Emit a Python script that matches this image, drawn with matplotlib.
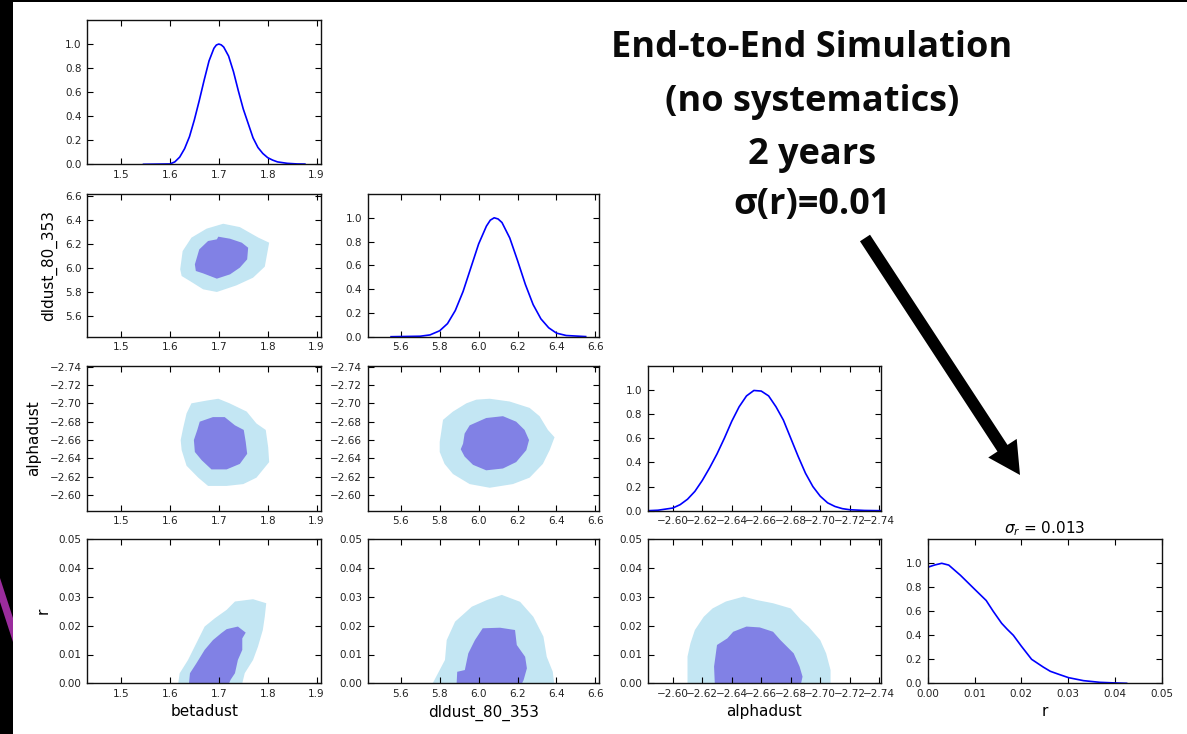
import matplotlib
matplotlib.use('Agg')
import matplotlib.pyplot as plt
from matplotlib.patches import FancyArrow, Rectangle, Polygon

W, H, DPI = 1187, 734, 100

# ---------------- data ----------------
param_names = ['betadust', 'dldust_80_353', 'alphadust', 'r']
beta_lim = (1.431, 1.909)
dl_lim = (5.43, 6.62)
alpha_lim = (-2.583, -2.741)
r_lim = (0.0, 0.05)
pdf_lim = (0.0, 1.2)

beta_ticks = [1.5, 1.6, 1.7, 1.8, 1.9]
dl_ticks = [5.6, 5.8, 6.0, 6.2, 6.4, 6.6]
alpha_ticks = [-2.60, -2.62, -2.64, -2.66, -2.68, -2.70, -2.72, -2.74]
r_ticks = [0.0, 0.01, 0.02, 0.03, 0.04, 0.05]
pdf_ticks = [0.0, 0.2, 0.4, 0.6, 0.8, 1.0]

# 1D marginals
beta_pdf_x = [1.546, 1.600, 1.610, 1.620, 1.630, 1.640, 1.650, 1.660, 1.670, 1.680, 1.690, 1.695,
              1.700, 1.705, 1.710, 1.720, 1.730, 1.740, 1.750, 1.760, 1.770, 1.780, 1.790,
              1.800, 1.810, 1.820, 1.840, 1.860, 1.876]
beta_pdf_y = [0.0, 0.003, 0.02, 0.06, 0.13, 0.23, 0.37, 0.53, 0.70, 0.86, 0.965, 0.992,
              1.0, 0.993, 0.975, 0.90, 0.77, 0.61, 0.46, 0.34, 0.22, 0.14, 0.09,
              0.055, 0.035, 0.02, 0.008, 0.003, 0.002]

dl_pdf_x = [5.55, 5.70, 5.75, 5.80, 5.84, 5.88, 5.92, 5.96, 6.00, 6.04, 6.06, 6.08, 6.10,
            6.12, 6.16, 6.20, 6.24, 6.28, 6.32, 6.36, 6.40, 6.45, 6.55]
dl_pdf_y = [0.0, 0.004, 0.015, 0.05, 0.11, 0.22, 0.38, 0.58, 0.78, 0.93, 0.98, 1.0, 0.99,
            0.96, 0.83, 0.64, 0.44, 0.27, 0.15, 0.075, 0.03, 0.01, 0.001]

alpha_pdf_x = [-2.583, -2.590, -2.600, -2.605, -2.610, -2.615, -2.620, -2.625, -2.630, -2.635,
               -2.640, -2.645, -2.650, -2.655, -2.660, -2.665, -2.670, -2.675, -2.680, -2.685,
               -2.690, -2.695, -2.700, -2.705, -2.710, -2.715, -2.720, -2.730, -2.741]
alpha_pdf_y = [0.0, 0.004, 0.022, 0.05, 0.095, 0.16, 0.25, 0.355, 0.47, 0.60,
               0.74, 0.86, 0.95, 0.995, 0.99, 0.95, 0.86, 0.75, 0.60, 0.45,
               0.31, 0.20, 0.12, 0.065, 0.035, 0.017, 0.008, 0.002, 0.0]

r_pdf_x = [0.0, 0.0015, 0.003, 0.0045, 0.007, 0.010, 0.0125, 0.014, 0.0158, 0.017, 0.0183,
           0.0200, 0.0222, 0.0247, 0.0262, 0.0280, 0.0301, 0.0333, 0.0368, 0.040, 0.0425]
r_pdf_y = [0.967, 0.986, 1.0, 0.985, 0.90, 0.785, 0.69, 0.60, 0.50, 0.45, 0.40,
           0.31, 0.20, 0.135, 0.10, 0.075, 0.047, 0.022, 0.008, 0.003, 0.0]

# 2D credible-region outlines (outer = 95%, inner = 68%)
beta_dl_outer_x = [1.621, 1.626, 1.644, 1.675, 1.709, 1.743, 1.781, 1.803, 1.798, 1.794, 1.770,
                   1.736, 1.696, 1.668, 1.641, 1.624]
beta_dl_outer_y = [5.992, 6.144, 6.256, 6.331, 6.372, 6.344, 6.256, 6.214, 6.103, 6.014, 5.922,
                   5.858, 5.803, 5.825, 5.894, 5.936]
beta_dl_inner_x = [1.651, 1.660, 1.678, 1.696, 1.699, 1.723, 1.747, 1.760, 1.758, 1.743, 1.723,
                   1.696, 1.668, 1.653]
beta_dl_inner_y = [6.033, 6.158, 6.228, 6.242, 6.264, 6.247, 6.214, 6.172, 6.075, 6.006, 5.950,
                   5.914, 5.958, 5.978]

beta_alpha_outer_x = [1.644, 1.675, 1.699, 1.722, 1.757, 1.777, 1.796, 1.801, 1.803, 1.777, 1.750,
                      1.716, 1.678, 1.658, 1.634, 1.624, 1.622, 1.627, 1.634]
beta_alpha_outer_y = [-2.700, -2.703, -2.705, -2.700, -2.691, -2.678, -2.671, -2.652, -2.636,
                      -2.619, -2.612, -2.610, -2.610, -2.619, -2.632, -2.649, -2.660, -2.673,
                      -2.689]
beta_alpha_inner_x = [1.661, 1.688, 1.712, 1.733, 1.751, 1.755, 1.758, 1.743, 1.716, 1.685, 1.665,
                      1.651, 1.649, 1.656]
beta_alpha_inner_y = [-2.680, -2.685, -2.685, -2.676, -2.671, -2.658, -2.645, -2.634, -2.628,
                      -2.628, -2.638, -2.647, -2.660, -2.671]

dl_alpha_outer_x = [5.808, 5.817, 5.868, 5.937, 5.988, 6.057, 6.159, 6.262, 6.313, 6.356, 6.390,
                    6.365, 6.330, 6.262, 6.176, 6.057, 5.954, 5.868, 5.825, 5.800, 5.800]
dl_alpha_outer_y = [-2.669, -2.682, -2.691, -2.700, -2.704, -2.705, -2.702, -2.695, -2.686,
                    -2.671, -2.663, -2.649, -2.634, -2.619, -2.612, -2.608, -2.612, -2.623,
                    -2.634, -2.647, -2.658]
dl_alpha_inner_x = [5.920, 5.928, 5.954, 6.039, 6.125, 6.193, 6.236, 6.259, 6.245, 6.193, 6.125,
                    6.039, 5.971, 5.928, 5.908]
dl_alpha_inner_y = [-2.656, -2.667, -2.676, -2.684, -2.686, -2.680, -2.671, -2.660, -2.649,
                    -2.636, -2.629, -2.627, -2.633, -2.642, -2.650]

beta_r_outer_x = [1.617, 1.620, 1.637, 1.654, 1.671, 1.692, 1.716, 1.733, 1.770, 1.797, 1.794,
                  1.790, 1.780, 1.770, 1.753, 1.748]
beta_r_outer_y = [0.0, 0.0035, 0.0081, 0.0139, 0.0197, 0.0226, 0.0255, 0.0284, 0.0292, 0.0278,
                  0.0231, 0.0185, 0.0127, 0.0081, 0.0035, 0.0]
beta_r_inner_x = [1.639, 1.641, 1.654, 1.671, 1.688, 1.705, 1.716, 1.739, 1.755, 1.748, 1.748,
                  1.739, 1.733, 1.724, 1.721]
beta_r_inner_y = [0.0, 0.0035, 0.0069, 0.0116, 0.0150, 0.0174, 0.0188, 0.0197, 0.0176, 0.0156,
                  0.0116, 0.0081, 0.0035, 0.0012, 0.0]

dl_r_outer_x = [5.764, 5.827, 5.836, 5.879, 5.965, 6.042, 6.119, 6.213, 6.281, 6.333, 6.350,
                6.381, 6.388]
dl_r_outer_y = [0.0, 0.0081, 0.0150, 0.0214, 0.0266, 0.0289, 0.0307, 0.0283, 0.0231, 0.0162,
                0.0092, 0.0040, 0.0]
dl_r_inner_x = [5.887, 5.890, 5.929, 5.947, 5.981, 6.021, 6.110, 6.187, 6.196, 6.239, 6.248,
                6.231, 6.223]
dl_r_inner_y = [0.0, 0.0040, 0.0046, 0.0104, 0.0150, 0.0191, 0.0193, 0.0185, 0.0133, 0.0092,
                0.0052, 0.0011, 0.0]

alpha_r_outer_x = [-2.610, -2.610, -2.612, -2.615, -2.621, -2.627, -2.636, -2.648, -2.657,
                   -2.668, -2.680, -2.687, -2.692, -2.700, -2.704, -2.707, -2.707]
alpha_r_outer_y = [0.0, 0.0093, 0.0139, 0.0185, 0.0231, 0.0260, 0.0284, 0.0301, 0.0289,
                   0.0278, 0.0260, 0.0220, 0.0197, 0.0150, 0.0104, 0.0046, 0.0]
alpha_r_inner_x = [-2.6285, -2.628, -2.630, -2.637, -2.641, -2.650, -2.659, -2.668, -2.673,
                   -2.682, -2.686, -2.688, -2.687]
alpha_r_inner_y = [0.0, 0.0058, 0.0133, 0.0156, 0.0179, 0.0197, 0.0194, 0.0179, 0.0150,
                   0.0104, 0.0058, 0.0023, 0.0]

sigma_r_title = r'$\sigma_r$ = 0.013'
headline = ['End-to-End Simulation', '(no systematics)', '2 years', 'σ(r)=0.01']

# ---------------- style ----------------
plt.rcParams['font.family'] = ['DejaVu Sans']
LINE = '#0000FF'
OUTER = '#C3E6F3'
INNER = '#8181E5'
TICKCOL = '#222222'

lims = [beta_lim, dl_lim, alpha_lim, r_lim]
ticks = [beta_ticks, dl_ticks, alpha_ticks, r_ticks]
pdfs = [(beta_pdf_x, beta_pdf_y), (dl_pdf_x, dl_pdf_y),
        (alpha_pdf_x, alpha_pdf_y), (r_pdf_x, r_pdf_y)]
regions = {
    (1, 0): (beta_dl_outer_x, beta_dl_outer_y, beta_dl_inner_x, beta_dl_inner_y),
    (2, 0): (beta_alpha_outer_x, beta_alpha_outer_y, beta_alpha_inner_x, beta_alpha_inner_y),
    (2, 1): (dl_alpha_outer_x, dl_alpha_outer_y, dl_alpha_inner_x, dl_alpha_inner_y),
    (3, 0): (beta_r_outer_x, beta_r_outer_y, beta_r_inner_x, beta_r_inner_y),
    (3, 1): (dl_r_outer_x, dl_r_outer_y, dl_r_inner_x, dl_r_inner_y),
    (3, 2): (alpha_r_outer_x, alpha_r_outer_y, alpha_r_inner_x, alpha_r_inner_y),
}

col_left = [87.3, 367.7, 647.7, 927.7]
col_width = [233.7, 231.6, 233.0, 234.0]
row_top = [20.0, 194.0, 365.7, 539.3]
row_bot = [164.3, 336.7, 510.7, 683.3]

fig = plt.figure(figsize=(W / DPI, H / DPI), dpi=DPI)
fig.patch.set_facecolor('white')


def style_axes(ax):
    ax.tick_params(direction='in', length=4, width=0.8, top=True, right=True,
                   labelsize=7.5, colors='black', labelcolor=TICKCOL)
    ax.tick_params(axis='x', pad=4)
    ax.tick_params(axis='y', pad=4)
    for s in ax.spines.values():
        s.set_linewidth(1.0)
        s.set_color('#111111')


for i in range(4):
    for j in range(i + 1):
        l = col_left[j] / W
        b = 1 - row_bot[i] / H
        w = col_width[j] / W
        h = (row_bot[i] - row_top[i]) / H
        ax = fig.add_axes([l, b, w, h])
        style_axes(ax)
        ax.set_xticks(ticks[j])
        ax.set_xlim(*lims[j])
        if i == j:
            px, py = pdfs[i]
            ax.plot(px, py, color=LINE, lw=1.2, solid_joinstyle='round')
            ax.set_yticks(pdf_ticks)
            ax.set_ylim(*pdf_lim)
        else:
            ox, oy, ix, iy = regions[(i, j)]
            ax.fill(ox, oy, color=OUTER, lw=0)
            ax.fill(ix, iy, color=INNER, lw=0)
            ax.set_yticks(ticks[i])
            ax.set_ylim(*lims[i])
            if j == 0:
                ax.set_ylabel(param_names[i], fontsize=11, labelpad=6)
        if i == 3:
            ax.set_xlabel(param_names[j], fontsize=11, labelpad=4)
        if i == 3 and j == 3:
            ax.set_title(sigma_r_title, fontsize=11, pad=4)

# ---------------- overlay: slide decorations, headline, arrow ----------------
ov = fig.add_axes([0, 0, 1, 1], zorder=10)
ov.set_xlim(0, W)
ov.set_ylim(H, 0)
ov.set_axis_off()
ov.patch.set_visible(False)
ov.add_patch(Rectangle((0, 0), 13, H, color='black', lw=0))
ov.add_patch(Rectangle((0, 0), W, 2, color='black', lw=0))
ov.add_patch(Polygon([(0, 578), (0, 602), (13, 642), (13, 618)], closed=True,
                     color='#9A2C9C', lw=0))

baselines = [57, 111, 164, 214]
for txt, yb in zip(headline, baselines):
    ov.text(812, yb, txt, ha='center', va='baseline', fontsize=26,
            fontweight='bold', family=['Open Sans', 'DejaVu Sans'], color='#0a0a0a')

x0, y0, x1, y1 = 865, 238, 1020, 475
ov.add_patch(FancyArrow(x0, y0, x1 - x0, y1 - y0, width=12, head_width=34,
                        head_length=32, length_includes_head=True,
                        color='black', lw=0))

fig.savefig('out.png', dpi=DPI, facecolor='white')
